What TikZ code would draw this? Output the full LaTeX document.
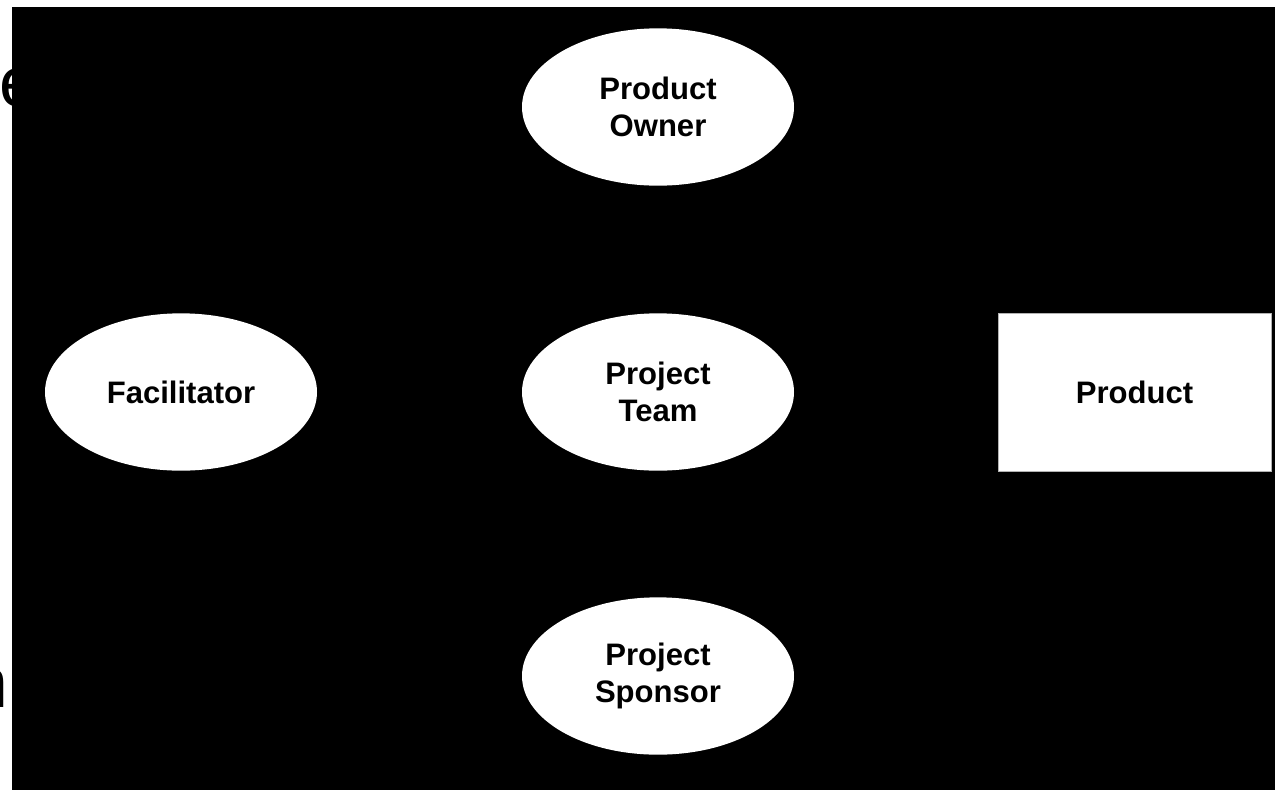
\documentclass[tikz,border=0pt]{standalone}
\usepackage{fontspec}
\setmainfont{Liberation Sans}
\usetikzlibrary{shapes.geometric}
\tikzset{
	role/.style={ellipse,fill=white,inner sep=0pt,minimum width=204pt,minimum height=118pt,align=center,font=\fontsize{23.3}{27.5}\selectfont\bfseries},
	thing/.style={rectangle,fill=white,draw=gray!60,line width=0.4pt,inner sep=0pt,minimum width=204.5pt,minimum height=118.5pt,font=\fontsize{23.3}{27.5}\selectfont\bfseries},
	cut/.style={inner sep=0pt,font=\fontsize{53}{60}\selectfont}
}
\begin{document}
\begin{tikzpicture}[x=0.75pt,y=-0.75pt]
		\useasboundingbox (0,0) rectangle (1275,790);
		\node[cut,anchor=west] (tl) at (-1,88) {e};
		\node[cut,anchor=east] (bl) at (9,688) {m};
		\fill[black] (12,7) rectangle (1275,790);
		\node[role] (owner) at (658,107) {Product\\Owner};
		\node[role] (facil) at (181,392) {Facilitator};
		\node[role] (team) at (658,392) {Project\\Team};
		\node[role] (sponsor) at (658,676) {Project\\Sponsor};
		\node[thing] (product) at (1134.5,392) {Product};
	\end{tikzpicture}
\end{document}
